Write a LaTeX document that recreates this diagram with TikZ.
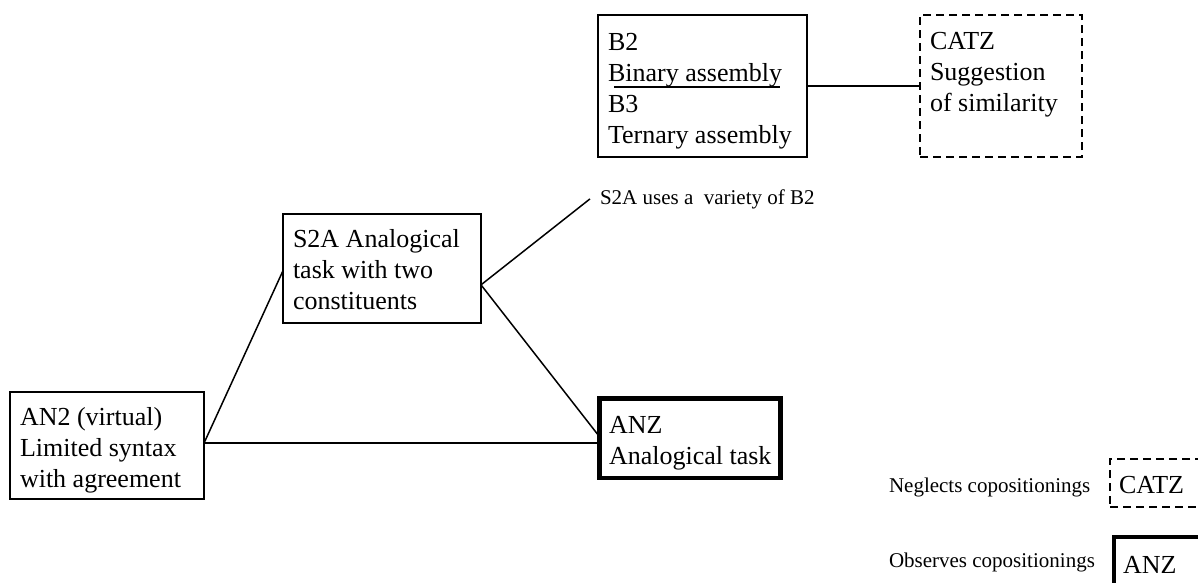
\documentclass[tikz,border=0pt]{standalone}
\usepackage{fontspec}
\setmainfont{Liberation Serif}
\usetikzlibrary{calc}
\begin{document}
\begin{tikzpicture}[x=1pt,y=-1pt,
  every node/.style={inner sep=0pt, outer sep=0pt},
  boxshape/.style={draw, line width=1.5pt, anchor=north west, minimum width=#1},
  dashbox/.style={draw, line width=1.5pt, anchor=north west, dash pattern=on 8pt off 5pt, minimum width=#1},
  thickbox/.style={draw, line width=4.5pt, anchor=north west, minimum width=#1},
  bigtext/.style={anchor=base west, align=left, font=\fontsize{26}{31}\selectfont},
  smalltext/.style={anchor=base west, font=\fontsize{21}{25}\selectfont},
  conn/.style={line width=1.5pt}]
\useasboundingbox (0,0) rectangle (1198,582);
% boxes
\node[boxshape=209pt, minimum height=142pt] (b2) at (598,15) {};
\node[dashbox=162pt, minimum height=142pt] (catz) at (920,15) {};
\node[boxshape=198pt, minimum height=109pt] (s2a) at (283,214) {};
\node[boxshape=194pt, minimum height=107pt] (an2) at (10,392) {};
\node[thickbox=181pt, minimum height=79.5pt] (anz) at (599.25,398.25) {};
\node[dashbox=120pt, minimum height=48pt] (lcatz) at (1110,459) {};
\node[thickbox=120pt, minimum height=80pt] (lanz) at (1114,537) {};
% texts (anchored at the baseline of the last line)
\node[bigtext] (b2t) at (608,143) {B2\\Binary assembly\\B3\\Ternary assembly};
\coordinate (ul1) at (614,87);
\coordinate (ul2) at (780,87);
\draw[conn] (ul1) -- (ul2);
\node[bigtext] (catzt) at (930,111) {CATZ\\Suggestion\\of similarity};
\node[bigtext] (s2at) at (293,309) {S2A Analogical\\task with two\\constituents};
\node[bigtext] (an2t) at (20,487) {AN2 (virtual)\\Limited syntax\\with agreement};
\node[bigtext] (anzt) at (609,464) {ANZ\\Analogical task};
\node[smalltext] (lab) at (600,204) {S2A uses a\ \ variety of B2};
\node[smalltext] (neg) at (889,492) {Neglects copositionings};
\node[smalltext] (obs) at (889,567) {Observes copositionings};
\node[bigtext] (lcatzt) at (1119,493) {CATZ};
\node[bigtext] (lanzt) at (1123,573) {ANZ};
% connectors
\coordinate (an2e) at ($(an2.north east)!0.478!(an2.south east)$);
\coordinate (s2aw) at ($(s2a.north west)!0.52!(s2a.south west)$);
\coordinate (s2ae) at ($(s2a.north east)!0.65!(s2a.south east)$);
\coordinate (anzw) at ($(anz.north west)!0.48!(anz.south west)$);
\coordinate (labw) at ($(lab.west)+(-10,0)$);
\draw[conn] (b2.east) -- (catz.west);
\draw[conn] (an2e) -- (s2aw);
\draw[conn] (an2e) -- (an2e -| anz.west);
\draw[conn] (s2ae) -- (anzw);
\draw[conn] (s2ae) -- (labw);
\end{tikzpicture}
\end{document}
